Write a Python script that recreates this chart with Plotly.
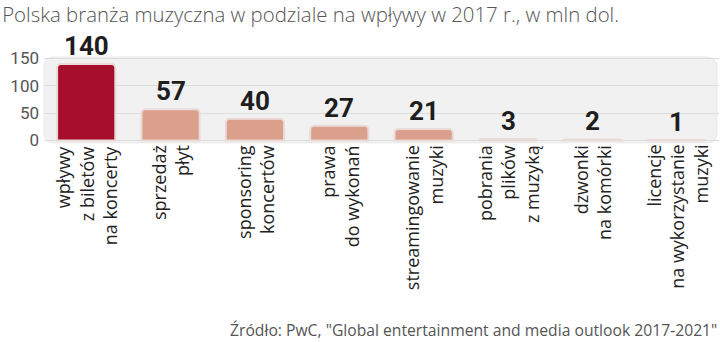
import plotly.graph_objects as go

categories = [
    "wpływy<br>z biletów<br>na koncerty",
    "sprzedaż<br>płyt",
    "sponsoring<br>koncertów",
    "prawa<br>do wykonań",
    "streamingowanie<br>muzyki",
    "pobrania<br>plików<br>z muzyką",
    "dzwonki<br>na komórki",
    "licencje<br>na wykorzystanie<br>muzyki",
]
values = [140, 57, 40, 27, 21, 3, 2, 1]
value_labels = ["140", "57", "40", "27", "21", "3", "2", "1"]
y_ticks = [0, 50, 100, 150]

title = "Polska branża muzyczna w podziale na wpływy w 2017 r., w mln dol."
source = "Źródło: PwC, \"Global entertainment and media outlook 2017-2021\""

W, H = 720, 342
ML, MR, MT, MB = 44, 1, 57, 200
PW, PH = W - ML - MR, H - MT - MB

colors = ["#A50F2C"] + ["#DBA08C"] * (len(values) - 1)

fig = go.Figure()
fig.add_trace(go.Bar(
    x=categories, y=values,
    marker=dict(color=colors, line=dict(color="#EADBD8", width=2), cornerradius=4),
    width=0.69,
    hoverinfo="skip",
))

for c, v, t in zip(categories, values, value_labels):
    fig.add_annotation(
        x=c, y=v, text=t, showarrow=False, yanchor="bottom", yshift=1,
        font=dict(family="Roboto", size=26, color="#1e1e1e", weight="bold"),
    )

# category labels, rotated, lines right-aligned
for c in categories:
    fig.add_annotation(
        x=c, y=0, xref="x", yref="paper", text=c, showarrow=False,
        textangle=-90, align="right", xanchor="center", yanchor="top", yshift=-1,
        font=dict(family="Open Sans", size=18, color="#222222"),
    )

# rounded background panel (paper coords)
rx = 10 / PW
ry = 10 / PH
x0, x1, y0, y1 = 0.0, 0.997, -0.01, 1.0
path = (f"M {x0+rx},{y0} L {x1-rx},{y0} Q {x1},{y0} {x1},{y0+ry} "
        f"L {x1},{y1-ry} Q {x1},{y1} {x1-rx},{y1} L {x0+rx},{y1} Q {x0},{y1} {x0},{y1-ry} "
        f"L {x0},{y0+ry} Q {x0},{y0} {x0+rx},{y0} Z")
fig.add_shape(type="path", path=path, xref="paper", yref="paper",
              fillcolor="#F1F1F1", line=dict(color="#E9E9E9", width=1), layer="below")

fig.add_annotation(
    text=source, xref="paper", yref="paper", x=1.0, y=(MT + PH - 330) / PH,
    xanchor="right", yanchor="middle", showarrow=False,
    font=dict(family="Open Sans", size=15.7, color="#555555"),
)

fig.update_layout(
    width=W, height=H,
    margin=dict(l=ML, r=MR, t=MT, b=MB),
    paper_bgcolor="white", plot_bgcolor="rgba(0,0,0,0)",
    showlegend=False,
    title=dict(text=title, x=0.003, xref="container", xanchor="left",
               y=1 - 15 / H, yref="container", yanchor="middle",
               font=dict(family="Open Sans", size=20.4, color="#555555", weight=300)),
    bargap=0.31,
)
fig.update_xaxes(
    showticklabels=False, showgrid=False, showline=False, zeroline=False, ticks="",
)
fig.update_yaxes(
    range=[-2.7, 152.7], tickvals=y_ticks, ticktext=[str(v) for v in y_ticks],
    showgrid=True, gridcolor="#DDDDDD", gridwidth=1, zeroline=False, showline=False,
    tickfont=dict(family="Roboto", size=17, color="#555555"), ticks="", ticklabelstandoff=4,
)

fig.write_html("out.html")
